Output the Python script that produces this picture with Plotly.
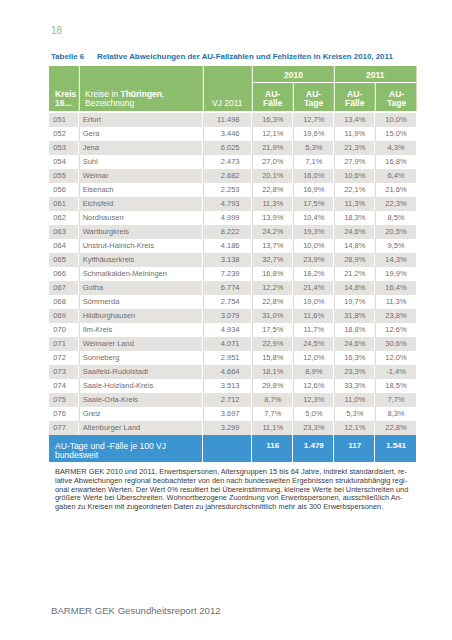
import plotly.graph_objects as go

# ---------------- data ----------------
kreis_codes = ["051", "052", "053", "054", "055", "056", "061", "062", "063", "064", "065", "066",
               "067", "068", "069", "070", "071", "072", "073", "074", "075", "076", "077"]
kreis_names = ["Erfurt", "Gera", "Jena", "Suhl", "Weimar", "Eisenach", "Eichsfeld", "Nordhausen",
               "Wartburgkreis", "Unstrut-Hainich-Kreis", "Kyffhäuserkreis", "Schmalkalden-Meiningen",
               "Gotha", "Sömmerda", "Hildburghausen", "Ilm-Kreis", "Weimarer Land", "Sonneberg",
               "Saalfeld-Rudolstadt", "Saale-Holzland-Kreis", "Saale-Orla-Kreis", "Greiz",
               "Altenburger Land"]
vj_2011 = [11498, 3446, 6025, 2473, 2682, 2253, 4793, 4999, 8222, 4186, 3138, 7239,
           6774, 2754, 3079, 4934, 4071, 2951, 4664, 3513, 2712, 3697, 3299]
au_faelle_2010 = [16.3, 12.1, 21.9, 27.0, 20.1, 22.8, 11.3, 13.9, 24.2, 13.7, 32.7, 16.8,
                  12.2, 22.8, 31.0, 17.5, 22.9, 15.8, 18.1, 29.8, 8.7, 7.7, 11.1]
au_tage_2010 = [12.7, 19.6, 5.3, 7.1, 16.0, 16.9, 17.5, 10.4, 19.3, 10.0, 23.9, 18.2,
                21.4, 19.0, 11.6, 11.7, 24.5, 12.0, 8.9, 12.6, 12.3, 5.0, 23.3]
au_faelle_2011 = [13.4, 11.9, 21.3, 27.9, 10.6, 22.1, 11.3, 18.3, 24.6, 14.8, 28.9, 21.2,
                  14.8, 19.7, 31.8, 18.8, 24.6, 16.3, 23.3, 33.3, 11.0, 5.3, 12.1]
au_tage_2011 = [10.0, 15.0, 4.3, 16.8, 6.4, 21.6, 22.3, 8.5, 20.5, 9.5, 14.3, 19.9,
                16.4, 11.3, 23.8, 12.6, 30.6, 12.0, -1.4, 18.5, 7.7, 8.3, 22.8]
bund_label = ["AU-Tage und -Fälle je 100 VJ", "bundesweit"]
bund_values = [116, 1479, 117, 1541]   # Fälle 2010, Tage 2010, Fälle 2011, Tage 2011

header_years = ["2010", "2011"]
header_sub = [["AU-", "Fälle"], ["AU-", "Tage"], ["AU-", "Fälle"], ["AU-", "Tage"]]

page_number = "18"
table_label = "Tabelle 6"
table_title = "Relative Abweichungen der AU-Fallzahlen und Fehlzeiten in Kreisen 2010, 2011"
footnote_lines = [
    "BARMER GEK 2010 und 2011, Erwerbspersonen, Altersgruppen 15 bis 64 Jahre, indirekt standardisiert, re-",
    "lative Abweichungen regional beobachteter von den nach bundesweiten Ergebnissen strukturabhängig regi-",
    "onal erwarteten Werten. Der Wert 0% resultiert bei Übereinstimmung, kleinere Werte bei Unterschreiten und",
    "größere Werte bei Überschreiten. Wohnortbezogene Zuordnung von Erwerbspersonen, ausschließlich An-",
    "gaben zu Kreisen mit zugeordneten Daten zu jahresdurchschnittlich mehr als 300 Erwerbspersonen.",
]
footer_text = "BARMER GEK Gesundheitsreport 2012"

# ---------------- layout constants ----------------
W, H = 452, 640
FONT = "Liberation Sans, Arial, sans-serif"
GREEN = "#8cbd6c"
BLUE = "#3c94d0"
GREY_ROW = "#e4e3df"
TXT = "#6f6f6f"
TITLE_BLUE = "#1e6fad"

TABLE_LEFT, TABLE_RIGHT = 49.0, 416.7
COL_W = [30.3, 124.0, 49.0, 41.0, 41.0, 41.0, 41.4]
edges = [0.0]
for w in COL_W:
    edges.append(edges[-1] + w)
X_MAX = edges[-1]

HEAD_TOP, HEAD_SUB, HEAD_BOT = 66.0, 82.5, 111.0
BODY_TOP, ROW_H = 113.0, 14.0
n = len(kreis_codes)
BLUE_BOT_PX = 462.0


def py(p):  # page pixel row -> y axis units (one unit = one table row)
    return (p - BODY_TOP) / ROW_H


def px(p):  # page pixel column -> x axis units
    return p - TABLE_LEFT


Y_TOP = py(HEAD_TOP)
Y_BOT = py(BLUE_BOT_PX)

fmt_int = lambda v: f"{v:,}".replace(",", ".")
fmt_pct = lambda v: f"{v:.1f}".replace(".", ",") + "%"

fig = go.Figure()

# row banding (body)
z_body = [[0 if i % 2 == 0 else 1] * len(COL_W) for i in range(n)]
fig.add_trace(go.Heatmap(
    z=z_body, x=edges, y=list(range(n + 1)),
    zmin=0, zmax=2, colorscale=[[0, GREY_ROW], [0.5, "#ffffff"], [1, BLUE]],
    showscale=False, xgap=1, hoverinfo="skip"))
# blue summary row (first two columns merged)
blue_edges = [edges[0]] + edges[2:]
fig.add_trace(go.Heatmap(
    z=[[2] * (len(blue_edges) - 1)], x=blue_edges, y=[n, py(BLUE_BOT_PX)],
    zmin=0, zmax=2, colorscale=[[0, GREY_ROW], [0.5, "#ffffff"], [1, BLUE]],
    showscale=False, xgap=1, hoverinfo="skip"))

row_y = [i + 0.5 for i in range(n)]
cell_font = dict(family=FONT, size=7.5, color=TXT)

fig.add_trace(go.Scatter(x=[px(53.3)] * n, y=row_y, text=kreis_codes, mode="text",
                         textposition="middle right", textfont=cell_font, hoverinfo="skip"))
fig.add_trace(go.Scatter(x=[px(82.7)] * n, y=row_y, text=kreis_names, mode="text",
                         textposition="middle right", textfont=cell_font, hoverinfo="skip"))
fig.add_trace(go.Scatter(x=[px(239.5)] * n, y=row_y, text=[fmt_int(v) for v in vj_2011],
                         mode="text", textposition="middle left", textfont=cell_font,
                         hoverinfo="skip"))
for k, series in enumerate([au_faelle_2010, au_tage_2010, au_faelle_2011, au_tage_2011]):
    cx = (edges[3 + k] + edges[4 + k]) / 2
    fig.add_trace(go.Scatter(x=[cx] * n, y=row_y, text=[fmt_pct(v) for v in series],
                             mode="text", textposition="middle center", textfont=cell_font,
                             hoverinfo="skip"))

# blue row values
blue_val_y = py(445.6)
fig.add_trace(go.Scatter(
    x=[(edges[3 + k] + edges[4 + k]) / 2 for k in range(4)], y=[blue_val_y] * 4,
    text=[f"<b>{fmt_int(v)}</b>" for v in bund_values], mode="text",
    textposition="middle center", textfont=dict(family=FONT, size=8, color="white"),
    hoverinfo="skip"))

shapes = []
# light grey column lines on white rows
for b in edges[1:-1]:
    path = " ".join(f"M{b},{i} L{b},{i + 1}" for i in range(1, n, 2))
    shapes.append(dict(type="path", path=path, xref="x", yref="y",
                       line=dict(color="#d4d4d4", width=1), layer="above"))
# header
shapes.append(dict(type="rect", xref="x", yref="y", x0=0, x1=X_MAX,
                   y0=py(HEAD_TOP), y1=py(HEAD_BOT), fillcolor=GREEN, line=dict(width=0),
                   layer="below"))
for b in [edges[1], edges[2], edges[3], edges[5]]:
    shapes.append(dict(type="line", xref="x", yref="y", x0=b, x1=b,
                       y0=py(HEAD_TOP), y1=py(HEAD_BOT), line=dict(color="white", width=1)))
for b in [edges[4], edges[6]]:
    shapes.append(dict(type="line", xref="x", yref="y", x0=b, x1=b,
                       y0=py(HEAD_SUB), y1=py(HEAD_BOT), line=dict(color="white", width=1)))
shapes.append(dict(type="line", xref="x", yref="y", x0=edges[3], x1=X_MAX,
                   y0=py(HEAD_SUB), y1=py(HEAD_SUB), line=dict(color="white", width=1)))
# faint shadow on right edge of body
shapes.append(dict(type="rect", xref="x", yref="y", x0=X_MAX + 0.5, x1=X_MAX + 3,
                   y0=0, y1=n, fillcolor="#efefef", line=dict(width=0), layer="below"))

annotations = []


def ann(text, x, y, size, color, xanchor="left", xref="x", yref="y", family=FONT, yanchor="middle"):
    annotations.append(dict(text=text, x=x, y=y, xref=xref, yref=yref, showarrow=False,
                            xanchor=xanchor, yanchor=yanchor,
                            font=dict(family=family, size=size, color=color)))


HF = 8.5
L1, L2 = py(94.0), py(102.8)
ann("<b>Kreis</b>", px(53.3), L1, HF, "white")
ann("<b>16...</b>", px(53.3), L2, HF, "white")
ann("Kreise in <b>Thüringen</b>,", px(82.7), L1, HF, "white")
ann("Bezeichnung", px(82.7), L2, HF, "white")
ann("VJ 2011", px(245.0), L2, HF, "white", xanchor="right")
for g, yr in enumerate(header_years):
    ann(f"<b>{yr}</b>", (edges[3 + 2 * g] + edges[5 + 2 * g]) / 2, py(75.0), HF, "white",
        xanchor="center")
for k, (a, b) in enumerate(header_sub):
    cx = (edges[3 + k] + edges[4 + k]) / 2
    ann(f"<b>{a}</b>", cx, L1, HF, "white", xanchor="center")
    ann(f"<b>{b}</b>", cx, L2, HF, "white", xanchor="center")

# blue row label
ann(bund_label[0], px(53.3), py(445.6), 8.5, "white")
ann(bund_label[1], px(53.3), py(455.4), 8.5, "white")

# paper-level texts
pp = lambda v: 1 - v / H
ann(page_number, TABLE_LEFT / W, pp(30.5), 10, "#94c47e", xref="paper", yref="paper")
ann(f"<b>{table_label}</b>", TABLE_LEFT / W, pp(56.3), 7.9, TITLE_BLUE, xref="paper",
    yref="paper")
ann(f"<b>{table_title}</b>", 95.0 / W, pp(56.3), 7.9, TITLE_BLUE, xref="paper",
    yref="paper")
for j, line in enumerate(footnote_lines):
    ann(line, 53.3 / W, pp(471.2 + j * 8.9), 7.4, "#3a3a3a", xref="paper", yref="paper")
ann(footer_text, TABLE_LEFT / W, pp(610.8), 9.6, "#6b7075", xref="paper", yref="paper")

fig.update_layout(
    width=W, height=H, margin=dict(l=0, r=0, t=0, b=0),
    paper_bgcolor="white", plot_bgcolor="white", showlegend=False,
    xaxis=dict(domain=[TABLE_LEFT / W, TABLE_RIGHT / W], range=[0, X_MAX], visible=False,
               fixedrange=True),
    yaxis=dict(domain=[pp(BLUE_BOT_PX), pp(HEAD_TOP)], range=[Y_BOT, Y_TOP], visible=False,
               fixedrange=True),
    shapes=shapes, annotations=annotations,
)

fig.write_html("out.html", config={"displayModeBar": False},
               post_script="document.body.style.margin='0px';")
